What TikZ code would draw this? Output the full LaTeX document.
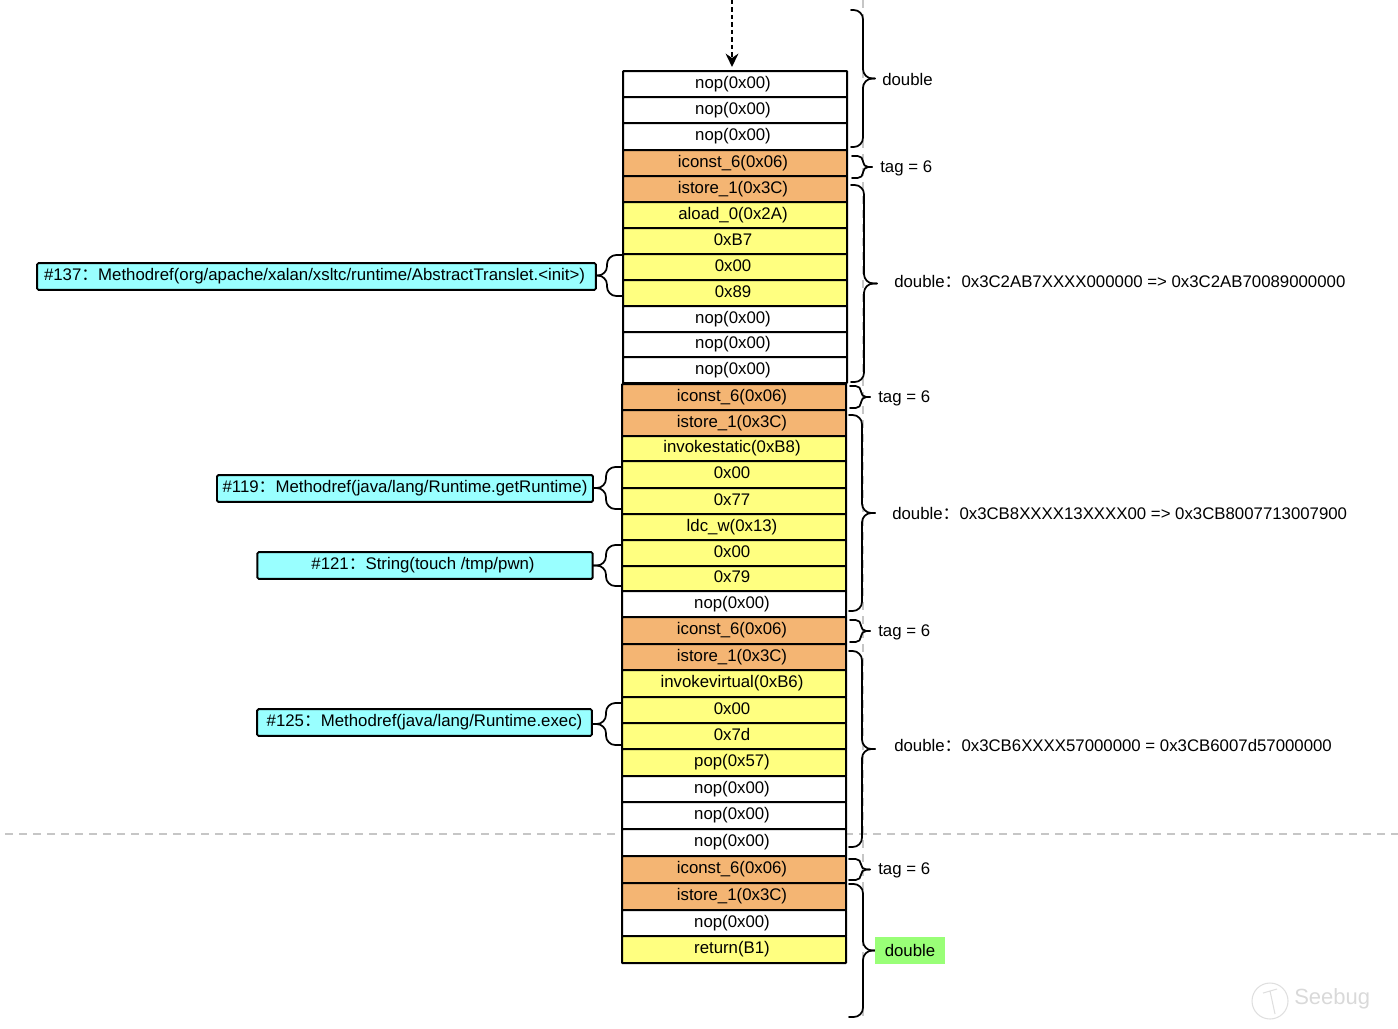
\documentclass[tikz,border=0pt]{standalone}
\usepackage{fontspec}
\setmainfont{Liberation Sans}
\newfontfamily\cjk{Noto Sans CJK SC}
\usetikzlibrary{arrows.meta,calc}

\definecolor{tagorange}{HTML}{F4B573}
\definecolor{opyellow}{HTML}{FFFF80}
\definecolor{refcyan}{HTML}{99FFFF}
\definecolor{lastgreen}{HTML}{99FF77}
\newcommand{\fwcolon}{{\cjk ：}}
% x0, stem x, tip x, top y, bottom y
\newcommand{\sidebrace}[6][7pt]{
    \draw[bracer, rounded corners=#1] (#2, #5) -- (#3, #5) -- (#3, {(#5+#6)/2}) -- (#4, {(#5+#6)/2});
    \draw[bracer, rounded corners=#1] (#4, {(#5+#6)/2}) -- (#3, {(#5+#6)/2}) -- (#3, #6) -- (#2, #6);
}
\tikzset{
    cell/.style={draw=black, line width=1.5pt, minimum width=168pt, inner sep=0pt, outer sep=0pt, text height=9pt, text depth=2.6pt, rounded corners=0.5pt},
    nopcell/.style={cell, fill=white},
    tagcell/.style={cell, fill=tagorange},
    opcell/.style={cell, fill=opyellow},
    refbox/.style={draw=black, line width=1.4pt, fill=refcyan, rounded corners=1pt, inner sep=0pt, outer sep=0pt, minimum height=20pt, text height=9pt, text depth=2.6pt},
    note/.style={anchor=west, inner sep=0pt},
    bracer/.style={line width=1.3pt, line cap=round},
    guide/.style={draw=gray!45, line width=0.9pt, dash pattern=on 6pt off 4.5pt},
}

\begin{document}
\begin{tikzpicture}[x=0.75pt, y=-0.75pt, >=Stealth, font=\fontsize{12.6}{14}\selectfont]
    \useasboundingbox (0, 0) rectangle (1398, 1028);

    % Guide lines
    \draw[guide] (5, 834) -- (1398, 834);
    \draw[guide] (863, 0) -- (863, 1022);

    % First column
    \foreach \ytop/\ybot/\txt/\kind [count=\i] in {
        71/97/nop(0x00)/nopcell,
        97/123/nop(0x00)/nopcell,
        123/150/nop(0x00)/nopcell,
        150/176/iconst\_6(0x06)/tagcell,
        176/202/istore\_1(0x3C)/tagcell,
        202/228/aload\_0(0x2A)/opcell,
        228/254/0xB7/opcell,
        254/280/0x00/opcell,
        280/306/0x89/opcell,
        306/332/nop(0x00)/nopcell,
        332/357/nop(0x00)/nopcell,
        357/383/nop(0x00)/nopcell}
        \node[\kind, minimum height={(\ybot-\ytop)*0.75pt}] (a\i) at (735, {(\ytop+\ybot)/2}) {\txt\hspace*{3pt}};

    % Second column
    \foreach \ytop/\ybot/\txt/\kind [count=\i] in {
        384/410/iconst\_6(0x06)/tagcell,
        410/436/istore\_1(0x3C)/tagcell,
        436/461/invokestatic(0xB8)/opcell,
        461/488/0x00/opcell,
        488/514/0x77/opcell,
        514/540/ldc\_w(0x13)/opcell,
        540/566/0x00/opcell,
        566/591/0x79/opcell,
        591/617/nop(0x00)/nopcell,
        617/644/iconst\_6(0x06)/tagcell,
        644/670/istore\_1(0x3C)/tagcell,
        670/697/invokevirtual(0xB6)/opcell,
        697/723/0x00/opcell,
        723/749/0x7d/opcell,
        749/776/pop(0x57)/opcell,
        776/802/nop(0x00)/nopcell,
        802/829/nop(0x00)/nopcell,
        829/856/nop(0x00)/nopcell,
        856/883/iconst\_6(0x06)/tagcell,
        883/910/istore\_1(0x3C)/tagcell,
        910/936/nop(0x00)/nopcell,
        936/963/return(B1)/opcell}
        \node[\kind, minimum height={(\ybot-\ytop)*0.75pt}] (b\i) at (734, {(\ytop+\ybot)/2}) {\txt\hspace*{3pt}};

    % Entry arrow
    \coordinate (entry) at (732, 0);
    \draw[-{Stealth[length=10pt, width=9.5pt]}, line width=1.6pt, dash pattern=on 3.2pt off 2.4pt, shorten >=3pt] (entry) -- (entry |- a1.north);

    % Braces on the right
    \sidebrace{851}{863}{875}{10}{147}
    \sidebrace[4pt]{852}{863}{872}{156}{178}
    \sidebrace{851}{864}{877}{185}{382}
    \sidebrace[4pt]{850}{861}{870}{386}{408}
    \sidebrace{849}{862}{875}{415}{611}
    \sidebrace[4pt]{850}{861}{870}{620}{642}
    \sidebrace{849}{862}{875}{651}{847}
    \sidebrace[4pt]{849}{861}{870}{859}{880}
    \sidebrace{849}{863}{875}{884}{1017}

    % Braces on the left
    \sidebrace{622}{607}{596}{255}{296}
    \sidebrace{622}{606}{593}{467}{509}
    \sidebrace{622}{606}{593}{545}{586}
    \sidebrace{622}{606}{592}{703}{745}

    % Constant pool references
    \node[refbox, minimum width=419pt] (ref137) at (316.5, 276.5) {\#137\fwcolon{}Methodref(org/apache/xalan/xsltc/runtime/AbstractTranslet.<init>)\hspace*{3pt}};
    \node[refbox, minimum width=282pt] (ref119) at (405, 488.5) {\#119\fwcolon{}Methodref(java/lang/Runtime.getRuntime)};
    \node[refbox, minimum width=251.5pt] (ref121) at (425, 565.5) {\#121\fwcolon{}String(touch /tmp/pwn)\hspace*{3pt}};
    \node[refbox, minimum width=251pt] (ref125) at (424.5, 722.5) {\#125\fwcolon{}Methodref(java/lang/Runtime.exec)};

    % Notes on the right
    \node[note] (dbl1) at (882, 79) {double};
    \node[note] (tag1) at (880, 168) {tag = 6};
    \node[note] (dbl2) at (894, 281) {double\fwcolon{}0x3C2AB7XXXX000000 => 0x3C2AB70089000000};
    \node[note] (tag2) at (878, 398) {tag = 6};
    \node[note] (dbl3) at (892, 513) {double\fwcolon{}0x3CB8XXXX13XXXX00 => 0x3CB8007713007900};
    \node[note] (tag3) at (878, 632) {tag = 6};
    \node[note] (dbl4) at (894, 745) {double\fwcolon{}0x3CB6XXXX57000000 = 0x3CB6007d57000000};
    \node[note] (tag4) at (878, 870) {tag = 6};
    \node[fill=lastgreen, inner sep=0pt, minimum width=52.5pt, minimum height=20.5pt] (dbl5) at (910, 950.5) {double};

    % Watermark
    \draw[gray!25, line width=0.8pt] (1270, 1001) circle (18);
    \draw[gray!25, line width=0.8pt] (1263, 993) -- (1277, 989) (1270, 991) -- (1275, 1014);
    \node[note, text=gray!30, font=\fontsize{16.5}{18}\selectfont] (seebug) at (1294, 999) {Seebug};
\end{tikzpicture}
\end{document}
